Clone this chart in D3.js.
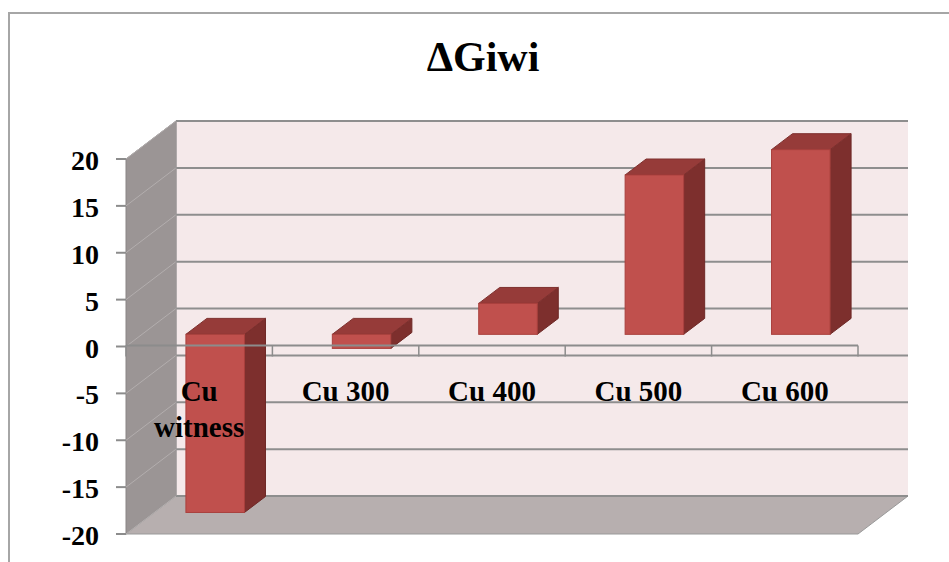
<!DOCTYPE html>
<html>
<head>
<meta charset="utf-8">
<script src="https://cdn.jsdelivr.net/npm/d3@7"></script>
<style>
  body { margin: 0; background: #fff; }
  text { font-family: "Liberation Serif", "Times New Roman", serif; font-weight: bold; }
</style>
</head>
<body>
<svg id="chart" width="949" height="562"></svg>
<script>
// data
const categories = [["Cu", "witness"], ["Cu 300"], ["Cu 400"], ["Cu 500"], ["Cu 600"]];
const values = [-19.0, -1.5, 3.3, 17.0, 19.7];
const yTicks = [-20, -15, -10, -5, 0, 5, 10, 15, 20];
const title = "\u0394Giwi";

const svg = d3.select("#chart");

// 3d box: front plane and depth offset
const depth = { dx: 50, dy: -38 };
const front = { left: 126, right: 858, top: 159, bottom: 534 };
const barDepth = [0.32, 0.74]; // fraction of depth where the bars sit

const x = d3.scaleBand()
  .domain(d3.range(categories.length))
  .range([front.left, front.right])
  .paddingInner(0).paddingOuter(0);
const y = d3.scaleLinear().domain([-20, 20]).range([front.bottom, front.top]);

const back = {
  left: front.left + depth.dx, right: front.right + depth.dx,
  top: front.top + depth.dy, bottom: front.bottom + depth.dy
};

// outer chart border
svg.append("path")
  .attr("d", "M9,562 L9,13 L949,13")
  .attr("fill", "none").attr("stroke", "#a6a6a6").attr("stroke-width", 2);

// back wall
svg.append("rect")
  .attr("x", back.left).attr("y", back.top)
  .attr("width", back.right - back.left).attr("height", back.bottom - back.top)
  .attr("fill", "#f5e9ea");

// side wall
svg.append("polygon")
  .attr("points", [[front.left, front.top], [back.left, back.top], [back.left, back.bottom], [front.left, front.bottom]].join(" "))
  .attr("fill", "#9b9595").attr("stroke", "#8a8585").attr("stroke-width", 1);

// floor
svg.append("polygon")
  .attr("points", [[front.left, front.bottom], [front.right, front.bottom], [back.right, back.bottom], [back.left, back.bottom]].join(" "))
  .attr("fill", "#b7afaf").attr("stroke", "#999").attr("stroke-width", 1);

// gridlines on back wall + side wall
const grid = svg.append("g");
grid.selectAll("line.back").data(yTicks).enter().append("line")
  .attr("x1", back.left).attr("x2", back.right)
  .attr("y1", d => y(d) + depth.dy).attr("y2", d => y(d) + depth.dy)
  .attr("stroke", "#8e8e8e").attr("stroke-width", 2);
grid.selectAll("line.side").data(yTicks).enter().append("line")
  .attr("x1", front.left).attr("x2", back.left)
  .attr("y1", d => y(d)).attr("y2", d => y(d) + depth.dy)
  .attr("stroke", "#b3aeae").attr("stroke-width", 1);
grid.append("line")
  .attr("x1", back.left).attr("x2", back.left)
  .attr("y1", back.top).attr("y2", back.bottom)
  .attr("stroke", "#a09c9c").attr("stroke-width", 1);

// y axis ticks + labels
const yAxis = svg.append("g");
yAxis.selectAll("line").data(yTicks).enter().append("line")
  .attr("x1", front.left - 10).attr("x2", front.left)
  .attr("y1", d => y(d)).attr("y2", d => y(d))
  .attr("stroke", "#8c8c8c").attr("stroke-width", 2);
yAxis.selectAll("text").data(yTicks).enter().append("text")
  .attr("x", 99).attr("y", d => y(d) + 11)
  .attr("text-anchor", "end").attr("font-size", 28)
  .text(d => d);

// bars
const bw = x.bandwidth() / 2.5;
const dx0 = depth.dx * barDepth[0], dy0 = depth.dy * barDepth[0];
const ddx = depth.dx * (barDepth[1] - barDepth[0]), ddy = depth.dy * (barDepth[1] - barDepth[0]);

const bars = svg.selectAll("g.bar").data(values).enter().append("g").attr("class", "bar");
bars.each(function(v, i) {
  const g = d3.select(this);
  const xl = x(i) + (x.bandwidth() - bw) / 2 + dx0;
  const xr = xl + bw;
  const yt = y(Math.max(0, v)) + dy0;
  const yb = y(Math.min(0, v)) + dy0;
  g.append("polygon") // side
    .attr("points", [[xr, yt], [xr + ddx, yt + ddy], [xr + ddx, yb + ddy], [xr, yb]].join(" "))
    .attr("fill", "#7d2f2d").attr("stroke", "#6e2826").attr("stroke-width", 1);
  g.append("polygon") // top
    .attr("points", [[xl, yt], [xr, yt], [xr + ddx, yt + ddy], [xl + ddx, yt + ddy]].join(" "))
    .attr("fill", "#963b39").attr("stroke", "#7e302e").attr("stroke-width", 1);
  g.append("rect") // front
    .attr("x", xl).attr("y", yt).attr("width", bw).attr("height", yb - yt)
    .attr("fill", "#c0504d").attr("stroke", "#a9403d").attr("stroke-width", 1);
});

// category axis at zero on the front plane
const xAxis = svg.append("g");
xAxis.append("line")
  .attr("x1", front.left).attr("x2", front.right)
  .attr("y1", y(0) - 1).attr("y2", y(0) - 1)
  .attr("stroke", "#8c8c8c").attr("stroke-width", 2);
xAxis.selectAll("line.tick").data(d3.range(categories.length + 1)).enter().append("line")
  .attr("x1", i => front.left + i * x.step()).attr("x2", i => front.left + i * x.step())
  .attr("y1", y(0) - 1).attr("y2", y(0) + 10)
  .attr("stroke", "#8c8c8c").attr("stroke-width", 1.5);

const labels = xAxis.selectAll("text").data(categories).enter().append("text")
  .attr("x", (d, i) => x(i) + x.bandwidth() / 2)
  .attr("y", 401)
  .attr("text-anchor", "middle").attr("font-size", 29);
labels.selectAll("tspan").data(d => d).enter().append("tspan")
  .attr("x", function() { return d3.select(this.parentNode).attr("x"); })
  .attr("dy", (d, j) => j === 0 ? 0 : 36)
  .text(d => d);

// title
svg.append("text")
  .attr("x", 483).attr("y", 71)
  .attr("text-anchor", "middle").attr("font-size", 42)
  .text(title);
</script>
</body>
</html>
